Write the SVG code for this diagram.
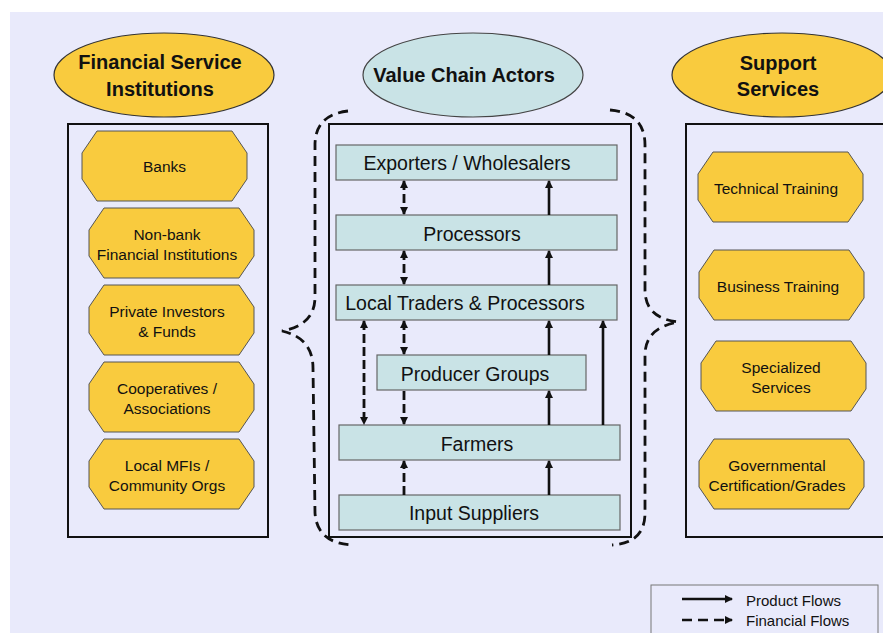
<svg xmlns="http://www.w3.org/2000/svg" width="883" height="633" viewBox="0 0 883 633">
<style>
text{font-family:"Liberation Sans",Arial,sans-serif;fill:#111}
.hdr{font-size:20px;font-weight:bold;text-anchor:middle}
.oct{font-size:15.5px;text-anchor:middle}
.bar{font-size:19.5px;text-anchor:middle}
.leg{font-size:15px}
.ell-y{fill:#F9CB3E;stroke:#333;stroke-width:1.2}
.ell-b{fill:#C9E3E6;stroke:#444;stroke-width:1.2}
.box{fill:none;stroke:#111;stroke-width:2}
.octs{fill:#F9CB3E;stroke:#555;stroke-width:1}
.barr{fill:#C9E3E6;stroke:#666;stroke-width:1.2}
.sol{stroke:#111;stroke-width:2.6;fill:none}
.dsh{stroke:#111;stroke-width:2.8;fill:none;stroke-dasharray:9,4}
.brace{stroke:#111;stroke-width:2.8;fill:none;stroke-dasharray:10,6}
</style>
<defs>
<marker id="ah" viewBox="0 0 8 8" refX="7" refY="4" markerWidth="8" markerHeight="8" orient="auto-start-reverse" markerUnits="userSpaceOnUse">
<path d="M0,0 L8,4 L0,8 z" fill="#111"/>
</marker>
<polygon id="octagon" class="octs" points="15,0 150,0 165,22 165,48 150,70 15,70 0,48 0,22"/>
</defs>
<rect x="10" y="12" width="873" height="621" fill="#E9EAFB"/>

<g id="financial-header">
<ellipse class="ell-y" cx="164" cy="75" rx="110" ry="42"/>
<text class="hdr" x="160" y="69">Financial Service</text>
<text class="hdr" x="160" y="96">Institutions</text>
</g>
<g id="financial-box"><rect class="box" x="68" y="124" width="200" height="413"/></g>
<g id="banks"><use href="#octagon" x="82" y="131"/><text class="oct" x="164.5" y="172">Banks</text></g>
<g id="nonbank"><use href="#octagon" x="89" y="208"/><text class="oct" x="167" y="240">Non-bank</text><text class="oct" x="167" y="260">Financial Institutions</text></g>
<g id="private"><use href="#octagon" x="89" y="285"/><text class="oct" x="167" y="317">Private Investors</text><text class="oct" x="167" y="337">&amp; Funds</text></g>
<g id="coops"><use href="#octagon" x="89" y="362"/><text class="oct" x="167" y="394">Cooperatives /</text><text class="oct" x="167" y="414">Associations</text></g>
<g id="mfis"><use href="#octagon" x="89" y="439"/><text class="oct" x="167" y="471">Local MFIs /</text><text class="oct" x="167" y="491">Community Orgs</text></g>

<g id="vca-header">
<ellipse class="ell-b" cx="473" cy="75" rx="110" ry="42"/>
<text class="hdr" x="464" y="82">Value Chain Actors</text>
</g>
<g id="vca-box"><rect class="box" x="329" y="124" width="302" height="413"/></g>
<g id="exporters"><rect class="barr" x="336" y="145" width="281" height="35"/><text class="bar" x="467" y="170">Exporters / Wholesalers</text></g>
<g id="processors"><rect class="barr" x="336" y="215" width="281" height="35"/><text class="bar" x="472" y="241">Processors</text></g>
<g id="local-traders"><rect class="barr" x="336" y="285" width="281" height="35"/><text class="bar" x="465" y="310">Local Traders &amp; Processors</text></g>
<g id="producer-groups"><rect class="barr" x="377" y="355" width="209" height="35"/><text class="bar" x="475" y="381">Producer Groups</text></g>
<g id="farmers"><rect class="barr" x="339" y="425" width="281" height="35"/><text class="bar" x="477" y="451">Farmers</text></g>
<g id="input-suppliers"><rect class="barr" x="339" y="495" width="281" height="35"/><text class="bar" x="474" y="520">Input Suppliers</text></g>

<g id="support-header">
<ellipse class="ell-y" cx="782" cy="75" rx="110" ry="42"/>
<text class="hdr" x="778" y="70">Support</text>
<text class="hdr" x="778" y="96">Services</text>
</g>
<g id="support-box"><rect class="box" x="686" y="124" width="200" height="413"/></g>
<g id="technical"><use href="#octagon" x="698" y="152"/><text class="oct" x="776" y="194">Technical Training</text></g>
<g id="business"><use href="#octagon" x="699" y="250"/><text class="oct" x="778" y="292">Business Training</text></g>
<g id="specialized"><use href="#octagon" x="701" y="341"/><text class="oct" x="781" y="373">Specialized</text><text class="oct" x="781" y="393">Services</text></g>
<g id="governmental"><use href="#octagon" x="699" y="439"/><text class="oct" x="777" y="471">Governmental</text><text class="oct" x="777" y="491">Certification/Grades</text></g>

<g id="connectors">
<path class="brace" d="M348,111 Q315,115 315,145 L315,297 Q315,325 282,331 Q313,338 313,368 L315,513 Q317,543 352,545"/>
<path class="brace" d="M610,110 Q645,113 645,145 L645,290 Q645,318 678,322 Q645,328 645,355 L645,513 Q645,543 612,545"/>
<line class="dsh" x1="404" y1="181" x2="404" y2="214" marker-start="url(#ah)" marker-end="url(#ah)"/>
<line class="dsh" x1="404" y1="251" x2="404" y2="284" marker-start="url(#ah)" marker-end="url(#ah)"/>
<line class="dsh" x1="404" y1="321" x2="404" y2="354" marker-start="url(#ah)" marker-end="url(#ah)"/>
<line class="dsh" x1="364" y1="321" x2="364" y2="424" marker-start="url(#ah)" marker-end="url(#ah)"/>
<line class="dsh" x1="404" y1="391" x2="404" y2="424" marker-end="url(#ah)"/>
<line class="dsh" x1="404" y1="495" x2="404" y2="461" marker-end="url(#ah)"/>
<line class="sol" x1="549" y1="215" x2="549" y2="181" marker-end="url(#ah)"/>
<line class="sol" x1="549" y1="285" x2="549" y2="251" marker-end="url(#ah)"/>
<line class="sol" x1="549" y1="355" x2="549" y2="321" marker-end="url(#ah)"/>
<line class="sol" x1="549" y1="425" x2="549" y2="391" marker-end="url(#ah)"/>
<line class="sol" x1="549" y1="495" x2="549" y2="461" marker-end="url(#ah)"/>
<line class="sol" x1="603" y1="425" x2="603" y2="321" marker-end="url(#ah)"/>
</g>

<g id="legend">
<rect x="651" y="585" width="227" height="60" fill="#E9EAFB" stroke="#777" stroke-width="1"/>
<line class="sol" x1="682" y1="599" x2="732" y2="599" stroke-width="3" marker-end="url(#ah)"/>
<line class="sol" x1="682" y1="620" x2="732" y2="620" stroke-width="3" stroke-dasharray="10,6" marker-end="url(#ah)"/>
<text class="leg" x="746" y="606">Product Flows</text>
<text class="leg" x="746" y="626">Financial Flows</text>
</g>
</svg>
